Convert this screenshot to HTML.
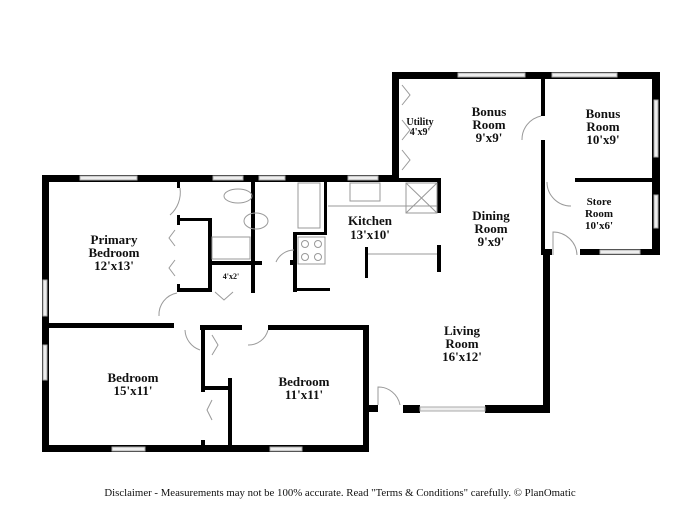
<!DOCTYPE html>
<html><head><style>
html,body{margin:0;padding:0;background:#fff;}
svg{display:block}
text{font-family:"Liberation Serif",serif;font-weight:bold;fill:#111;text-anchor:middle}
</style></head><body>
<svg width="700" height="522" viewBox="0 0 700 522" xmlns="http://www.w3.org/2000/svg">
<g fill="#000">
<rect x="42" y="175" width="355" height="7"/>
<rect x="42" y="175" width="7" height="277"/>
<rect x="42" y="445" width="327" height="7"/>
<rect x="363" y="326" width="6" height="126"/>
<rect x="363" y="405" width="15" height="7"/>
<rect x="403" y="405" width="17" height="8"/>
<rect x="485" y="405" width="65" height="8"/>
<rect x="543" y="250" width="7" height="162"/>
<rect x="392" y="72" width="268" height="7"/>
<rect x="392" y="72" width="7" height="110"/>
<rect x="392" y="178" width="48" height="4"/>
<rect x="437" y="178" width="4" height="35"/>
<rect x="437" y="245" width="4" height="27"/>
<rect x="541" y="79" width="4" height="37"/>
<rect x="541" y="140" width="4" height="115"/>
<rect x="575" y="178" width="85" height="4"/>
<rect x="652" y="72" width="8" height="183"/>
<rect x="542" y="249" width="10" height="6"/>
<rect x="580" y="249" width="75" height="6"/>
<rect x="49" y="323" width="125" height="5"/>
<rect x="200" y="325" width="42" height="5"/>
<rect x="268" y="325" width="101" height="5"/>
<rect x="201" y="326" width="4" height="66"/>
<rect x="201" y="440" width="4" height="7"/>
<rect x="201" y="386" width="29" height="4"/>
<rect x="228" y="378" width="4" height="69"/>
<rect x="177" y="180" width="3" height="8"/>
<rect x="177" y="215" width="3" height="10"/>
<rect x="177" y="218" width="34" height="3"/>
<rect x="208" y="218" width="4" height="74"/>
<rect x="177" y="284" width="3" height="8"/>
<rect x="177" y="288" width="35" height="4"/>
<rect x="251" y="178" width="4" height="115"/>
<rect x="208" y="261" width="54" height="4"/>
<rect x="290" y="260" width="4" height="5"/>
<rect x="293" y="232" width="4" height="60"/>
<rect x="293" y="288" width="37" height="3"/>
<rect x="293" y="232" width="34" height="3"/>
<rect x="324" y="180" width="3" height="55"/>
<rect x="365" y="247" width="3" height="31"/>
</g>
<g fill="#eee" stroke="#aaa" stroke-width="1">
<rect x="80" y="176" width="57" height="4"/>
<rect x="213" y="176" width="30" height="4"/>
<rect x="259" y="176" width="26" height="4"/>
<rect x="348" y="176" width="30" height="4"/>
<rect x="43" y="280" width="4" height="36"/>
<rect x="43" y="345" width="4" height="35"/>
<rect x="112" y="447" width="33" height="4"/>
<rect x="270" y="447" width="32" height="4"/>
<rect x="420" y="407" width="65" height="4"/>
<rect x="458" y="73" width="67" height="4"/>
<rect x="552" y="73" width="65" height="4"/>
<rect x="654" y="100" width="4" height="57"/>
<rect x="654" y="195" width="4" height="33"/>
<rect x="600" y="250" width="40" height="4"/>
</g>
<g fill="none" stroke="#999" stroke-width="1">
<rect x="298" y="183" width="22" height="45"/>
<rect x="212" y="237" width="38" height="22"/>
<rect x="298" y="237" width="27" height="27"/>
<circle cx="305" cy="244" r="3.5"/><circle cx="318" cy="244" r="3.5"/>
<circle cx="305" cy="257" r="3.5"/><circle cx="318" cy="257" r="3.5"/>
<ellipse cx="238" cy="196" rx="14" ry="7"/>
<ellipse cx="256" cy="221" rx="12" ry="8"/>
<rect x="350" y="183" width="30" height="18"/>
<rect x="406" y="183" width="31" height="30"/>
<path d="M406 183 L437 213 M437 183 L406 213"/>
<path d="M368 254 L437 254 M328 206 L437 206"/>
<path d="M180 188 A30 30 0 0 1 170 215"/>
<path d="M177 293 A22 22 0 0 0 159 316"/>
<path d="M185 330 A22 22 0 0 0 200 350"/>
<path d="M268 330 A20 20 0 0 1 248 345"/>
<path d="M294 250 A20 20 0 0 0 276 262"/>
<path d="M541 116 A24 24 0 0 0 522 140"/>
<path d="M547 182 A24 24 0 0 0 571 206"/>
<path d="M553 255 L553 232 A24 24 0 0 1 577 255"/>
<path d="M378 405 L378 387 A22 22 0 0 1 400 405"/>
<path d="M175 230 l-6 8 l6 8 M175 260 l-6 8 l6 8 M215 292 l9 8 l9 -8 M212 335 l6 10 l-6 10 M212 400 l-5 10 l5 10 M402 85 l8 10 l-8 10 M402 120 l8 10 l-8 10 M402 150 l8 10 l-8 10"/>
</g>
<text x="114" y="244" font-size="13">Primary</text>
<text x="114" y="257" font-size="13">Bedroom</text>
<text x="114" y="270" font-size="13">12'x13'</text>
<text x="231" y="279" font-size="8">4'x2'</text>
<text x="370" y="225" font-size="13">Kitchen</text>
<text x="370" y="239" font-size="13">13'x10'</text>
<text x="420" y="125" font-size="10">Utility</text>
<text x="420" y="135" font-size="10">4'x9'</text>
<text x="489" y="116" font-size="13">Bonus</text>
<text x="489" y="129" font-size="13">Room</text>
<text x="489" y="142" font-size="13">9'x9'</text>
<text x="603" y="118" font-size="13">Bonus</text>
<text x="603" y="131" font-size="13">Room</text>
<text x="603" y="144" font-size="13">10'x9'</text>
<text x="599" y="205" font-size="11">Store</text>
<text x="599" y="217" font-size="11">Room</text>
<text x="599" y="229" font-size="11">10'x6'</text>
<text x="491" y="220" font-size="13">Dining</text>
<text x="491" y="233" font-size="13">Room</text>
<text x="491" y="246" font-size="13">9'x9'</text>
<text x="462" y="335" font-size="13">Living</text>
<text x="462" y="348" font-size="13">Room</text>
<text x="462" y="361" font-size="13">16'x12'</text>
<text x="133" y="382" font-size="13">Bedroom</text>
<text x="133" y="395" font-size="13">15'x11'</text>
<text x="304" y="386" font-size="13">Bedroom</text>
<text x="304" y="399" font-size="13">11'x11'</text>
<text x="340" y="496" font-size="10.8" style="font-weight:normal">Disclaimer - Measurements may not be 100% accurate. Read "Terms &amp; Conditions" carefully. © PlanOmatic</text>
</svg>
</body></html>
